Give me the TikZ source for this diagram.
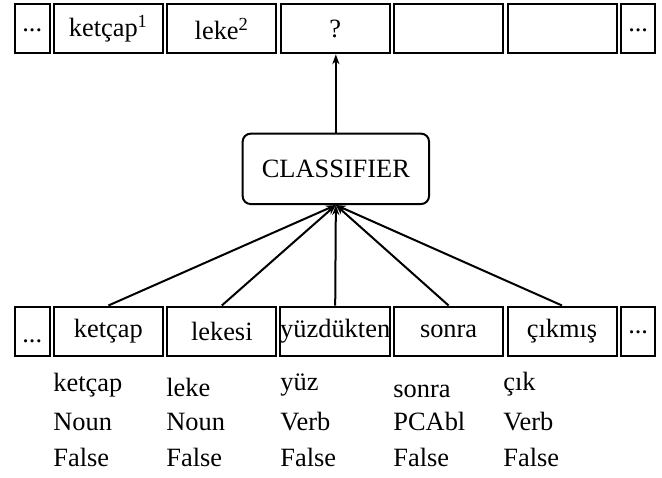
\documentclass[tikz,border=0pt]{standalone}
\usepackage{fontspec}
\setmainfont{Liberation Serif}
\usetikzlibrary{arrows.meta}

\tikzset{
  txt/.style={font=\fontsize{13.2}{15}\selectfont},
  cell/.style={draw, line width=1pt, minimum height=24.5pt, inner sep=0pt, txt},
  widecell/.style={cell, minimum width=54.5pt},
  dotcell/.style={cell, minimum width=17.25pt},
  dots/.style={anchor=base, inner sep=0pt, txt},
  clsbox/.style={draw, line width=1pt, rounded corners=4pt, minimum width=93.2pt,
                 minimum height=35.2pt, inner sep=0pt, txt},
  feat/.style={anchor=south west, inner sep=0pt, txt},
  link/.style={line width=1pt, -{Stealth[length=5pt,width=3.6pt]}}
}

\begin{document}
\begin{tikzpicture}[x=0.5pt,y=-0.5pt]
  \useasboundingbox (0,0) rectangle (662,477);

  % output sequence
  \node[dotcell]  (o0) at (32.25,28.8)  {};
  \node[widecell] (o1) at (108.4,28.8)  {ketçap\textsuperscript{1}};
  \node[widecell] (o2) at (221.8,28.8)  {leke\textsuperscript{2}};
  \node[widecell] (o3) at (335.2,28.8)  {?};
  \node[widecell] (o4) at (448.6,28.8)  {};
  \node[widecell] (o5) at (562,28.8)    {};
  \node[dotcell]  (o6) at (638.15,28.8) {};
  \node[dots] (o0d) at (o0.center |- 0,31) {...};
  \node[dots] (o6d) at (o6.center |- 0,31) {...};

  % classifier
  \node[clsbox] (cls) at (335.85,168.85) {CLASSIFIER};

  % input sequence
  \node[dotcell]  (i0) at (32.25,331)  {};
  \node[widecell] (i1) at (108.4,331)  {ketçap};
  \node[widecell] (i2) at (221.8,331)  {lekesi};
  \node[widecell] (i3) at (335.2,331)  {yüzdükten};
  \node[widecell] (i4) at (448.6,331)  {sonra};
  \node[widecell] (i5) at (562,331)    {çıkmış};
  \node[dotcell]  (i6) at (638.15,331) {};
  \node[dots] (i0d) at (i0.center |- 0,342) {...};
  \node[dots] (i6d) at (i6.center |- 0,333) {...};

  % connectors
  \draw[link] (cls.north) -- (cls.north |- o3.south);
  \foreach \k in {1,...,5}
    \draw[link] (i\k.north) -- (cls.south);

  % morphological features
  \node[feat] (r1) at (53,398)  {ketçap};
  \node[feat] (l1) at (166,397) {leke};
  \node[feat] (y1) at (280,397) {yüz};
  \node[feat] (s1) at (393,398) {sonra};
  \node[feat] (c1) at (503,397) {çık};

  \node[feat] (r2) at (53,431)  {Noun};
  \node[feat] (l2) at (166,431) {Noun};
  \node[feat] (y2) at (280,431) {Verb};
  \node[feat] (s2) at (393,431) {PCAbl};
  \node[feat] (c2) at (503,431) {Verb};

  \node[feat] (r3) at (53,467)  {False};
  \node[feat] (l3) at (166,467) {False};
  \node[feat] (y3) at (280,467) {False};
  \node[feat] (s3) at (393,467) {False};
  \node[feat] (c3) at (503,467) {False};
\end{tikzpicture}
\end{document}
